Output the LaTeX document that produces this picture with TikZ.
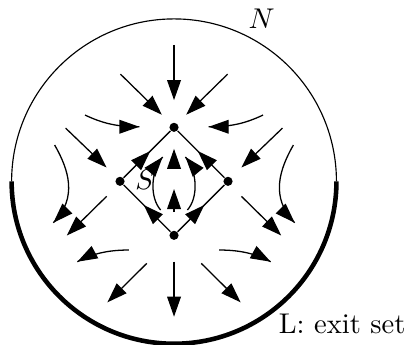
\documentclass[tikz,border=0pt]{standalone}
\usepackage{amsmath,amssymb}
\usetikzlibrary{arrows.meta, decorations.markings}

\begin{document}
\begin{tikzpicture}[
      flow/.style={draw, line width=0.45pt, -{Triangle[length=7pt,width=4.8pt]}},
      curveflow/.style={draw, line width=0.45pt, postaction={decorate},
        decoration={markings, mark=at position 1 with {\arrow{Triangle[length=7pt,width=4.8pt]}}}},
      edge/.style={draw, line width=0.45pt, postaction={decorate},
        decoration={markings, mark=at position 0.57 with {\arrow{Triangle[length=7pt,width=4.8pt]}}}},
      dot/.style={circle, fill, inner sep=0pt, minimum size=3.2pt},
      exitset/.style={draw, line width=1.6pt}
  ]
  \useasboundingbox (-2.143,-2.004) rectangle (2.992,2.233);

  % isolating neighbourhood N and exit set L
  \draw[thin] (2,0) arc (0:180:2);
  \path[exitset] (-2,0) arc (180:360:2);
  \node[anchor=base] (nlabel) at (1.08,1.884) {$N$};
  \node[anchor=base west, inner sep=0pt] (llabel) at (1.284,-1.872) {L: exit set};

  % invariant set S
  \node[dot] (ntop) at (0,0.665) {};
  \node[dot] (nbot) at (0,-0.665) {};
  \node[dot] (nleft) at (-0.665,0) {};
  \node[dot] (nright) at (0.665,0) {};
  \node (slabel) at (-0.357,0.02) {$S$};

  \path[edge] (nbot) -- (nleft);
  \path[edge] (nleft) -- (ntop);
  \path[edge] (nbot) -- (nright);
  \path[edge] (nright) -- (ntop);

  \path[flow] (0,0.16) -- (0,0.40);
  \path[flow] (0,-0.378) -- (0,-0.095);
  \path[curveflow] (-0.165,-0.353) .. controls (-0.30,-0.2) and (-0.29,0.12) .. (-0.14,0.30);
  \path[curveflow] (0.165,-0.353) .. controls (0.30,-0.2) and (0.29,0.12) .. (0.14,0.30);

  % flow towards S
  \path[flow] (0,1.68) -- (0,1.0);
  \path[flow] (-0.66,1.32) -- (-0.15,0.82);
  \path[flow] (0.66,1.32) -- (0.15,0.82);
  \path[curveflow] (-1.096,0.816) .. controls (-0.87,0.71) and (-0.7,0.672) .. (-0.427,0.672);
  \path[curveflow] (1.096,0.816) .. controls (0.87,0.71) and (0.7,0.672) .. (0.427,0.672);
  \path[flow] (-1.335,0.655) -- (-0.83,0.17);
  \path[flow] (1.335,0.655) -- (0.83,0.17);

  % flow leaving through L
  \path[curveflow] (-1.47,0.447) .. controls (-1.30,0.15) and (-1.18,-0.2) .. (-1.486,-0.51);
  \path[curveflow] (1.47,0.447) .. controls (1.30,0.15) and (1.18,-0.2) .. (1.486,-0.51);
  \path[flow] (-0.83,-0.185) -- (-1.32,-0.667);
  \path[flow] (0.83,-0.185) -- (1.32,-0.667);
  \path[curveflow] (-0.556,-0.846) .. controls (-0.75,-0.846) and (-0.97,-0.87) .. (-1.19,-0.99);
  \path[curveflow] (0.556,-0.846) .. controls (0.75,-0.846) and (0.97,-0.87) .. (1.19,-0.99);
  \path[flow] (-0.335,-1.01) -- (-0.82,-1.49);
  \path[flow] (0,-0.99) -- (0,-1.667);
  \path[flow] (0.335,-1.01) -- (0.82,-1.49);

\end{tikzpicture}
\end{document}
